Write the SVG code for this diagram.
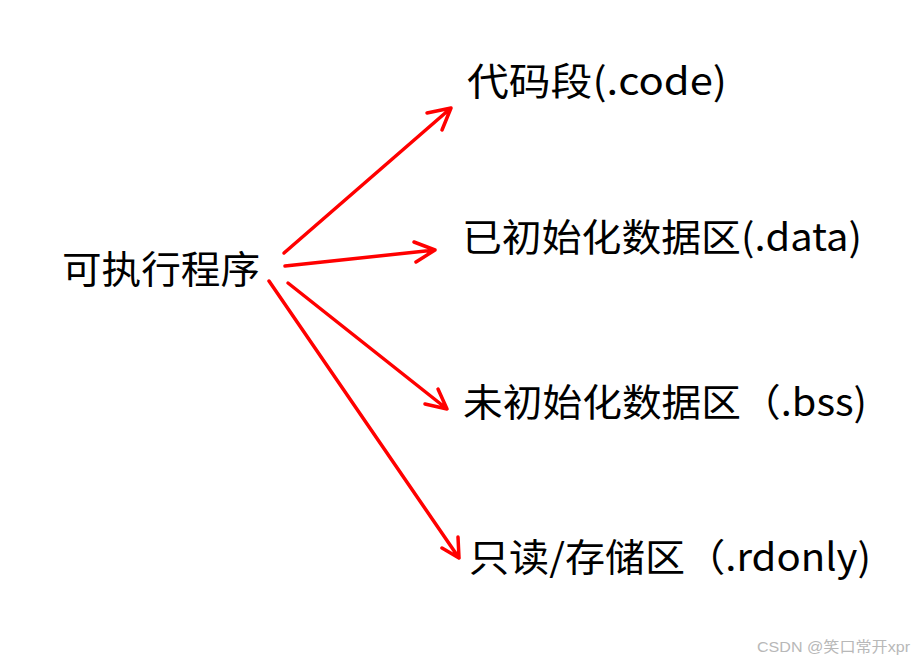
<svg xmlns="http://www.w3.org/2000/svg" width="921" height="662" viewBox="0 0 921 662">
<style>
.t{font-family:"Microsoft YaHei","Noto Sans CJK SC","Noto Sans",sans-serif;fill:#000;font-size:38px;}
.a{fill:none;stroke:#ff0000;stroke-width:3.5;stroke-linecap:round;stroke-linejoin:round;}
.w{font-family:"Liberation Sans","Noto Sans CJK SC",sans-serif;font-size:15px;fill:#b8b8b8;}
</style>
<rect width="921" height="662" fill="#ffffff"/>
<g id="source"><text class="t" x="62" y="283" textLength="198" lengthAdjust="spacingAndGlyphs">可执行程序</text></g>
<g id="code"><text class="t" x="467" y="95" textLength="260" lengthAdjust="spacingAndGlyphs">代码段(.code)</text></g>
<g id="data"><text class="t" x="462" y="251" textLength="400" lengthAdjust="spacingAndGlyphs">已初始化数据区(.data)</text></g>
<g id="bss"><text class="t" x="463" y="416" textLength="404" lengthAdjust="spacingAndGlyphs">未初始化数据区（.bss)</text></g>
<g id="rdonly"><text class="t" x="469" y="571" textLength="402" lengthAdjust="spacingAndGlyphs">只读/存储区（.rdonly)</text></g>
<g id="connectors">
<path class="a" d="M284,253 L451,108 M427,113 L451,108 L442,130"/>
<path class="a" d="M285,266 L435,250 M414,242 L435,250 L416,262"/>
<path class="a" d="M288,283 L447,409 M438,389 L447,409 L425,404"/>
<path class="a" d="M269,281 L459,558 M458,537 L459,558 L442,548"/>
</g>
<text class="w" x="757" y="652" textLength="153" lengthAdjust="spacingAndGlyphs">CSDN @笑口常开xpr</text>
</svg>
